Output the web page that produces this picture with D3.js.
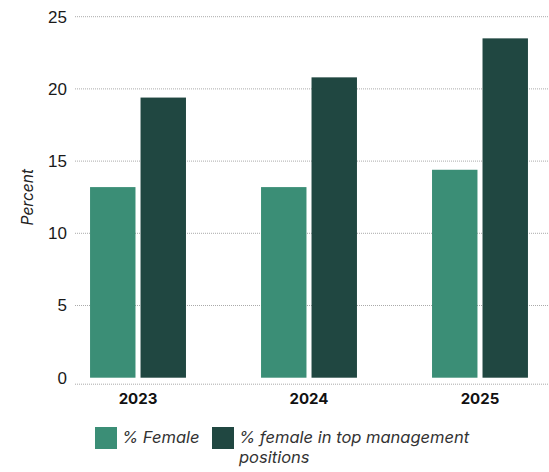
<!DOCTYPE html>
<html>
<head>
<meta charset="utf-8">
<script src="https://cdn.jsdelivr.net/npm/d3@7"></script>
<style>
  body { margin: 0; background: #fff; }
</style>
</head>
<body>
<div id="chart"></div>
<script>
const years = ["2023", "2024", "2025"];
const seriesKeys = ["female", "topMgmt"];
const femaleValues = [13.2, 13.2, 14.4];
const topMgmtValues = [19.4, 20.8, 23.5];
const yTicks = [0, 5, 10, 15, 20, 25];
const legendLabels = [["% Female"], ["% female in top management", "positions"]];

const width = 549, height = 472;
const margin = { top: 16.7, right: 0, bottom: 94.3, left: 75 };

const color = d3.scaleOrdinal()
  .domain(seriesKeys)
  .range(["#3b8e76", "#204741"]);

const data = years.map((y, i) => ({ year: y, female: femaleValues[i], topMgmt: topMgmtValues[i] }));

const svg = d3.select("#chart")
  .append("svg")
  .attr("width", width)
  .attr("height", height)
  .style("font-family", "Inter, 'Noto Sans', sans-serif");

const y = d3.scaleLinear()
  .domain([0, 25])
  .range([height - margin.bottom, margin.top]);

const x0 = d3.scaleBand()
  .domain(years)
  .range([margin.left, 543])
  .paddingInner(0.439)
  .paddingOuter(0.088);

const x1 = d3.scaleBand()
  .domain(seriesKeys)
  .range([0, x0.bandwidth()])
  .paddingInner(0.1);

// grid lines + y labels
const yAxis = svg.append("g")
  .attr("transform", `translate(${margin.left},0)`)
  .call(d3.axisLeft(y).tickValues(yTicks).tickSize(0).tickPadding(8));
yAxis.select(".domain").remove();
yAxis.selectAll("text")
  .style("font-size", "17px")
  .attr("fill", "#1a1a1a");

svg.append("g")
  .selectAll("line")
  .data(yTicks.filter(t => t > 0))
  .join("line")
  .attr("x1", margin.left)
  .attr("x2", width)
  .attr("y1", d => y(d))
  .attr("y2", d => y(d))
  .attr("stroke", "#aaa")
  .attr("stroke-dasharray", "1,1");

// bottom axis line sits a little below zero
svg.append("line")
  .attr("x1", margin.left)
  .attr("x2", width)
  .attr("y1", y(0) + 6.5)
  .attr("y2", y(0) + 6.5)
  .attr("stroke", "#aaa")
  .attr("stroke-dasharray", "1,1");

svg.append("g")
  .selectAll("g")
  .data(data)
  .join("g")
  .attr("transform", d => `translate(${x0(d.year)},0)`)
  .selectAll("rect")
  .data(d => seriesKeys.map(k => ({ key: k, value: d[k] })))
  .join("rect")
  .attr("x", d => x1(d.key))
  .attr("y", d => y(d.value))
  .attr("width", x1.bandwidth())
  .attr("height", d => y(0) - y(d.value))
  .attr("fill", d => color(d.key));

svg.append("g")
  .selectAll("text")
  .data(years)
  .join("text")
  .attr("x", d => x0(d) + x0.bandwidth() / 2)
  .attr("y", 404)
  .attr("text-anchor", "middle")
  .style("font-size", "15px")
  .style("font-weight", "bold")
  .attr("fill", "#111")
  .text(d => d);

svg.append("text")
  .attr("transform", "rotate(-90)")
  .attr("x", -(y(0) + y(25)) / 2)
  .attr("y", 33)
  .attr("text-anchor", "middle")
  .style("font-size", "15.5px")
  .style("font-style", "italic")
  .attr("fill", "#222")
  .text("Percent");

// legend
const legendX = [95, 212];
seriesKeys.forEach((k, i) => {
  const g = svg.append("g").attr("transform", `translate(${legendX[i]},427)`);
  g.append("rect")
    .attr("width", 22)
    .attr("height", 22)
    .attr("fill", color(k));
  const t = g.append("text")
    .attr("x", 27)
    .attr("y", 16)
    .style("font-size", "16.5px")
    .style("font-style", "italic")
    .attr("fill", "#333");
  legendLabels[i].forEach((line, j) => {
    t.append("tspan").attr("x", 27).attr("dy", j === 0 ? 0 : 20).text(line);
  });
});
</script>
</body>
</html>
